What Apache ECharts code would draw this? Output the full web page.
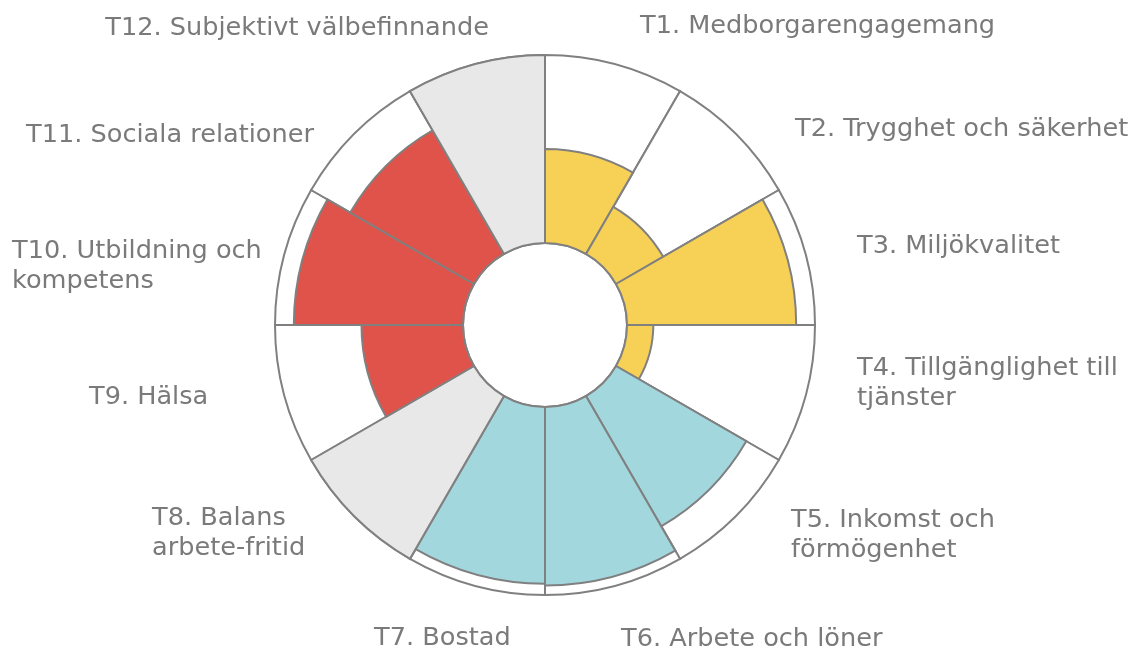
<!DOCTYPE html>
<html>
<head>
<meta charset="utf-8">
<script src="https://cdn.jsdelivr.net/npm/echarts@6/dist/echarts.min.js"></script>
<style>
html, body { margin: 0; background: #fff; }
#chart { width: 1135px; height: 649px; }
</style>
</head>
<body>
<div id="chart"></div>
<script>
// kategorier i ordning medurs från toppen
const categories = [
    'T1. Medborgarengagemang',
    'T2. Trygghet och säkerhet',
    'T3. Miljökvalitet',
    'T4. Tillgänglighet till\ntjänster',
    'T5. Inkomst och\nförmögenhet',
    'T6. Arbete och löner',
    'T7. Bostad',
    'T8. Balans\narbete-fritid',
    'T9. Hälsa',
    'T10. Utbildning och\nkompetens',
    'T11. Sociala relationer',
    'T12. Subjektivt välbefinnande'
]
const values = [5.0, 2.9, 9.0, 1.4, 8.0, 9.5, 9.4, 10, 5.4, 9.0, 7.6, 10]
const groups = ['gul', 'gul', 'gul', 'gul', 'bla', 'bla', 'bla', 'gra', 'rod', 'rod', 'rod', 'gra']
const maxValue = 10

const groupColors = {
    gul: '#f7d056',
    bla: '#a2d7de',
    rod: '#e0534a',
    gra: '#e8e8e8'
}

// etiketternas placering: [x, y, align]
const labelLayout = [
    [640, 11, 'left'],
    [795, 114, 'left'],
    [857, 231, 'left'],
    [857, 353, 'left'],
    [791, 505, 'left'],
    [621, 624, 'left'],
    [374, 623, 'left'],
    [152, 503, 'left'],
    [89, 382, 'left'],
    [12, 236, 'left'],
    [314, 120, 'right'],
    [489, 13, 'right']
]

const chart = echarts.init(document.getElementById('chart'))

const labels = categories.map((name, i) => ({
    type: 'text',
    x: labelLayout[i][0],
    y: labelLayout[i][1],
    silent: true,
    style: {
        text: name,
        fill: '#7a7a7a',
        font: '25.6px "DejaVu Sans"',
        lineHeight: 30,
        textAlign: labelLayout[i][2],
        textVerticalAlign: 'top'
    }
}))

chart.setOption({
    animation: false,
    polar: {
        center: [545, 325],
        radius: [82, 270]
    },
    angleAxis: {
        type: 'category',
        data: categories,
        startAngle: 90,
        clockwise: true,
        show: false
    },
    radiusAxis: {
        min: 0,
        max: maxValue,
        show: false
    },
    graphic: labels,
    series: [
        {
            type: 'bar',
            coordinateSystem: 'polar',
            data: categories.map(() => maxValue),
            barCategoryGap: '0%',
            barGap: '-100%',
            silent: true,
            z: 1,
            itemStyle: { color: '#fff', borderColor: '#808080', borderWidth: 2 }
        },
        {
            type: 'bar',
            coordinateSystem: 'polar',
            data: values.map((v, i) => ({
                value: v,
                itemStyle: { color: groupColors[groups[i]] }
            })),
            barCategoryGap: '0%',
            barGap: '-100%',
            z: 2,
            itemStyle: { borderColor: '#808080', borderWidth: 2 }
        }
    ]
})
</script>
</body>
</html>
